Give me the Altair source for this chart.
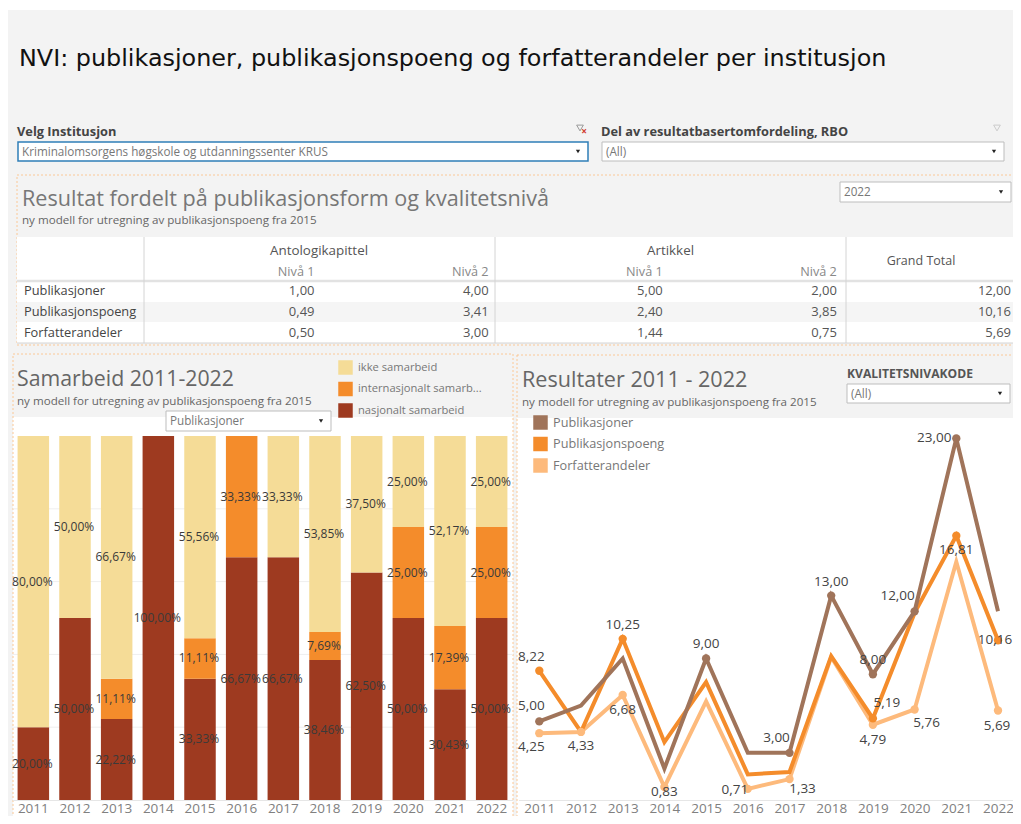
import altair as alt
import pandas as pd

YEARS = [str(y) for y in range(2011, 2023)]
COLLAB = ["ikke samarbeid", "internasjonalt samarbeid", "nasjonalt samarbeid"]
COLLAB_COLORS = ["#f5dc97", "#f48c2b", "#9e3a20"]
NASJONALT = [20.00, 50.00, 22.22, 100.00, 33.33, 66.67, 66.67, 38.46, 62.50, 50.00, 30.43, 50.00]
INTERNASJ = [0, 0, 11.11, 0, 11.11, 33.33, 0, 7.69, 0, 25.00, 17.39, 25.00]
IKKE = [80.00, 50.00, 66.67, 0, 55.56, 0, 33.33, 53.85, 37.50, 25.00, 52.17, 25.00]

SERIES = ["Publikasjoner", "Publikasjonspoeng", "Forfatterandeler"]
SERIES_COLORS = ["#a0745a", "#f48c2b", "#fdba7c"]
PUBLIKASJONER = [5, 6, 9, 2, 9, 3, 3, 13, 8, 12, 23, 12]
POENG = [8.22, 4.33, 10.25, 3.68, 7.50, 1.63, 1.78, 9.15, 5.19, 11.9, 16.81, 10.16]
FORFATTER = [4.25, 4.33, 6.68, 0.83, 6.27, 0.71, 1.33, 9.10, 4.79, 5.76, 15.15, 5.69]

ROW_NAMES = ["Publikasjoner", "Publikasjonspoeng", "Forfatterandeler"]
TABLE = [
    ["1,00", "4,00", "5,00", "2,00", "12,00"],
    ["0,49", "3,41", "2,40", "3,85", "10,16"],
    ["0,50", "3,00", "1,44", "0,75", "5,69"],
]

# which points carry a value label, with the label's offset from its point
LABELS = {
    ("Publikasjoner", "2011"): (-8, -15), ("Publikasjoner", "2015"): (0, -15),
    ("Publikasjoner", "2017"): (-13, -15), ("Publikasjoner", "2018"): (0, -14),
    ("Publikasjoner", "2019"): (0, -14), ("Publikasjoner", "2020"): (-17, -15),
    ("Publikasjoner", "2021"): (-22, 0),
    ("Publikasjonspoeng", "2011"): (-8, -14), ("Publikasjonspoeng", "2013"): (0, -14),
    ("Publikasjonspoeng", "2019"): (14, -15), ("Publikasjonspoeng", "2021"): (0, 14),
    ("Publikasjonspoeng", "2022"): (-3, 0),
    ("Forfatterandeler", "2011"): (-8, 14), ("Forfatterandeler", "2012"): (0, 14),
    ("Forfatterandeler", "2013"): (0, 15), ("Forfatterandeler", "2014"): (0, 5),
    ("Forfatterandeler", "2016"): (-13, 1), ("Forfatterandeler", "2017"): (13, 10),
    ("Forfatterandeler", "2019"): (0, 15), ("Forfatterandeler", "2020"): (12, 14),
    ("Forfatterandeler", "2022"): (-1, 15),
}

FONT = "Open Sans"
OX, OY = 8, 8
ONE = pd.DataFrame({"a": [0]})
layers = []


def rect(x1, y1, x2, y2, **kw):
    layers.append(alt.Chart(ONE).mark_rect(**kw).encode(
        x=alt.value(x1 - OX), x2=alt.value(x2 - OX), y=alt.value(y1 - OY), y2=alt.value(y2 - OY)))


def rule(x1, y1, x2, y2, color="#d4d4d4", width=1):
    layers.append(alt.Chart(ONE).mark_rule(color=color, strokeWidth=width).encode(
        x=alt.value(x1 - OX), x2=alt.value(x2 - OX), y=alt.value(y1 - OY), y2=alt.value(y2 - OY)))


def label(x, y, s, size=12, color="#666666", align="left", weight="normal", font=FONT):
    layers.append(alt.Chart(ONE).mark_text(
        text=s, fontSize=size, color=color, align=align, baseline="middle", fontWeight=weight, font=font
    ).encode(x=alt.value(x - OX), y=alt.value(y - OY)))


def marker(x, y, **kw):
    layers.append(alt.Chart(ONE).mark_point(opacity=1, **kw).encode(x=alt.value(x - OX), y=alt.value(y - OY)))


def dropdown(x1, y1, x2, y2, s, stroke="#bdbdbd", sw=1, size=11.7):
    rect(x1, y1, x2, y2, fill="#ffffff", stroke=stroke, strokeWidth=sw)
    label(x1 + 4, (y1 + y2) / 2, s, size=size, color="#777777")
    marker(x2 - 10, (y1 + y2) / 2, shape="triangle-down", filled=True, size=18, color="#222222")


FRAME = dict(fillOpacity=0, stroke="#fbc896", strokeDash=[2, 2], strokeWidth=1)

# ---- dashboard background ----
rect(6, 10, 1021, 824, fill="#f3f3f3")
label(19, 59, "NVI: publikasjoner, publikasjonspoeng og forfatterandeler per institusjon",
      size=23.86, color="#111111", font="DejaVu Sans")

# ---- filters ----
label(17, 132, "Velg Institusjon", size=12.8, color="#444444", weight="bold")
label(601, 132, "Del av resultatbasertomfordeling, RBO", size=12.8, color="#444444", weight="bold")
dropdown(18, 142, 588, 161, "Kriminalomsorgens høgskole og utdanningssenter KRUS", stroke="#2f7fb8", sw=1.5)
dropdown(602, 142, 1004, 161, "(All)")
marker(580, 128, shape="triangle-down", filled=False, size=45, color="#999999", strokeWidth=1)
label(584, 132, "×", size=10, color="#d0392b", align="center", weight="bold")
marker(997, 128, shape="triangle-down", filled=False, size=45, color="#cccccc", strokeWidth=1)

# ---- table panel ----
rect(17, 175, 1021, 345, **FRAME)
label(22, 199.5, "Resultat fordelt på publikasjonsform og kvalitetsnivå", size=21.6, color="#777777")
label(22, 221, "ny modell for utregning av publikasjonspoeng fra 2015", size=11.6, color="#666666")
dropdown(840, 182, 1011, 202, "2022")
rect(17, 237, 1021, 343, fill="#ffffff")
rect(17, 302, 1021, 322, fill="#f5f5f5")
rule(17, 281, 1021, 281, color="#e2e2e2", width=2.5)
rule(17, 343, 1021, 343)
for vx in (144, 495, 846):
    rule(vx, 237, vx, 343)
label(319, 250.5, "Antologikapittel", size=13.4, color="#555555", align="center")
label(670.5, 250.5, "Artikkel", size=13.4, color="#555555", align="center")
label(921, 260.5, "Grand Total", size=12.5, color="#555555", align="center")

tx = alt.Scale(domain=[0, 4], range=[314.5 - OX, 1011 - OX], nice=False, zero=False)
ty = alt.Scale(domain=[0, 2], range=[291 - OY, 333 - OY], nice=False, zero=False)
header = pd.DataFrame({"c": [0, 1, 2, 3], "t": ["Nivå 1", "Nivå 2", "Nivå 1", "Nivå 2"]})
layers.append(alt.Chart(header).mark_text(fontSize=12.7, color="#888888", align="right", baseline="middle", font=FONT).encode(
    x=alt.X("c:Q", scale=tx, axis=None), y=alt.value(271.5 - OY), text="t:N"))
cells = pd.DataFrame([{"c": c, "r": r, "t": v} for r, row in enumerate(TABLE) for c, v in enumerate(row)])
layers.append(alt.Chart(cells).mark_text(fontSize=13, color="#555555", align="right", baseline="middle", font=FONT).encode(
    x=alt.X("c:Q", scale=tx, axis=None), y=alt.Y("r:Q", scale=ty, axis=None), text="t:N"))
rows = pd.DataFrame({"r": [0, 1, 2], "t": ROW_NAMES})
layers.append(alt.Chart(rows).mark_text(fontSize=12.8, color="#444444", align="left", baseline="middle", font=FONT).encode(
    x=alt.value(24 - OX), y=alt.Y("r:Q", scale=ty, axis=None), text="t:N"))

# ---- bar panel ----
rect(13, 417, 513, 824, fill="#ffffff")
rect(13, 354, 513, 824, **FRAME)
label(17, 380, "Samarbeid 2011-2022", size=21.3, color="#666666")
label(17, 401.5, "ny modell for utregning av publikasjonspoeng fra 2015", size=11.6, color="#666666")

bx = alt.Scale(type="band", domain=YEARS, range=[12.5 - OX, 512.5 - OX], paddingInner=0.244, paddingOuter=0.122)
by = alt.Scale(domain=[0, 100], range=[800 - OY, 436 - OY], nice=False, zero=True)

records = []
for i, y in enumerate(YEARS):
    base = 0
    for name, vals in (("nasjonalt samarbeid", NASJONALT), ("internasjonalt samarbeid", INTERNASJ), ("ikke samarbeid", IKKE)):
        v = vals[i]
        if v > 0:
            records.append({"year": y, "kind": name, "v0": base, "v1": base + v, "mid": base + v / 2,
                            "t": f"{v:.2f}%".replace(".", ",")})
            base += v
bars = pd.DataFrame(records)
grid = pd.DataFrame({"v": [20, 40, 60, 80]})
layers.append(alt.Chart(grid).mark_rule(color="#efefef", strokeWidth=1).encode(
    x=alt.value(13 - OX), x2=alt.value(513 - OX), y=alt.Y("v:Q", scale=by, axis=None)))
layers.append(alt.Chart(bars).mark_bar().encode(
    x=alt.X("year:N", scale=bx, sort=YEARS, title=None, axis=alt.Axis(
        orient="bottom", labelAngle=0, labelFontSize=13.5, labelColor="#808080", labelFont=FONT, ticks=False,
        domainColor="#e6e6e6", labelPadding=1, grid=False, zindex=1)),
    y=alt.Y("v0:Q", scale=by, axis=None),
    y2="v1:Q",
    color=alt.Color("kind:N", scale=alt.Scale(domain=COLLAB, range=COLLAB_COLORS), legend=alt.Legend(
        orient="none", legendX=338 - OX, legendY=360 - OY, title=None, symbolType="square", symbolSize=210,
        symbolStrokeWidth=0, labelFontSize=11.2, labelColor="#777777", labelFont=FONT, rowPadding=6.5,
        labelOffset=5, labelExpr="datum.label == 'internasjonalt samarbeid' ? 'internasjonalt samarb...' : datum.label")),
))
layers.append(alt.Chart(bars).mark_text(fontSize=12, color="#3a3a3a", baseline="middle", font=FONT, dx=-1).encode(
    x=alt.X("year:N", scale=bx, sort=YEARS, axis=None),
    y=alt.Y("mid:Q", scale=by, axis=None),
    text="t:N"))
dropdown(166, 411, 331, 431, "Publikasjoner")

# ---- line panel ----
rect(517, 418, 1021, 824, fill="#ffffff")
rect(517, 355, 1021, 824, **FRAME)
label(522, 381, "Resultater 2011 - 2022", size=21.6, color="#666666")
label(522, 402.5, "ny modell for utregning av publikasjonspoeng fra 2015", size=11.6, color="#666666")
label(847, 374, "KVALITETSNIVAKODE", size=12.1, color="#555555", weight="bold")
dropdown(847, 384, 1010, 403, "(All)")

lx = alt.Scale(type="point", domain=YEARS, range=[518.45 - OX, 1018.85 - OX], padding=0.5)
ly = alt.Scale(domain=[0, 23], range=[800 - OY, 438.4 - OY], nice=False, zero=True)
rec = []
for s, vals in (("Forfatterandeler", FORFATTER), ("Publikasjonspoeng", POENG), ("Publikasjoner", PUBLIKASJONER)):
    for y, v in zip(YEARS, vals):
        rec.append({"series": s, "year": y, "v": v, "t": f"{v:.2f}".replace(".", ","), "lab": (s, y) in LABELS})
lines = pd.DataFrame(rec)
series_scale = alt.Scale(domain=SERIES, range=SERIES_COLORS)
layers.append(alt.Chart(lines).mark_line(strokeWidth=4, strokeJoin="miter").encode(
    x=alt.X("year:N", scale=lx, sort=YEARS, title=None, axis=alt.Axis(
        orient="bottom", labelAngle=0, labelFontSize=13.5, labelColor="#808080", labelFont=FONT, ticks=False,
        domainColor="#e6e6e6", labelPadding=1, grid=False, zindex=1)),
    y=alt.Y("v:Q", scale=ly, axis=None),
    color=alt.Color("series:N", scale=series_scale, legend=None),
))
points = lines[lines["lab"]]
layers.append(alt.Chart(points).mark_circle(size=70, opacity=1).encode(
    x=alt.X("year:N", scale=lx, sort=YEARS, axis=None),
    y=alt.Y("v:Q", scale=ly, axis=None),
    color=alt.Color("series:N", scale=series_scale, legend=alt.Legend(
        orient="none", legendX=533 - OX, legendY=415 - OY, title=None, symbolType="square", symbolSize=210,
        symbolStrokeWidth=0, labelFontSize=12.7, labelColor="#777777", labelFont=FONT, rowPadding=6.5, labelOffset=5)),
))
for (s, y), (dx, dy) in LABELS.items():
    one = lines[(lines["series"] == s) & (lines["year"] == y)]
    layers.append(alt.Chart(one).mark_text(fontSize=13.5, color="#444444", baseline="middle", font=FONT, dx=dx, dy=dy).encode(
        x=alt.X("year:N", scale=lx, sort=YEARS, axis=None),
        y=alt.Y("v:Q", scale=ly, axis=None),
        text="t:N"))

chart = alt.layer(*layers).resolve_scale(x="independent", y="independent", color="independent").properties(
    width=1005, height=792,
    padding={"left": 0, "top": 0, "right": 0, "bottom": 16},
    autosize=alt.AutoSizeParams(type="none"),
    background="#ffffff",
).configure_view(stroke=None)

chart.save("out.html", embed_options={"renderer": "svg", "actions": False})
